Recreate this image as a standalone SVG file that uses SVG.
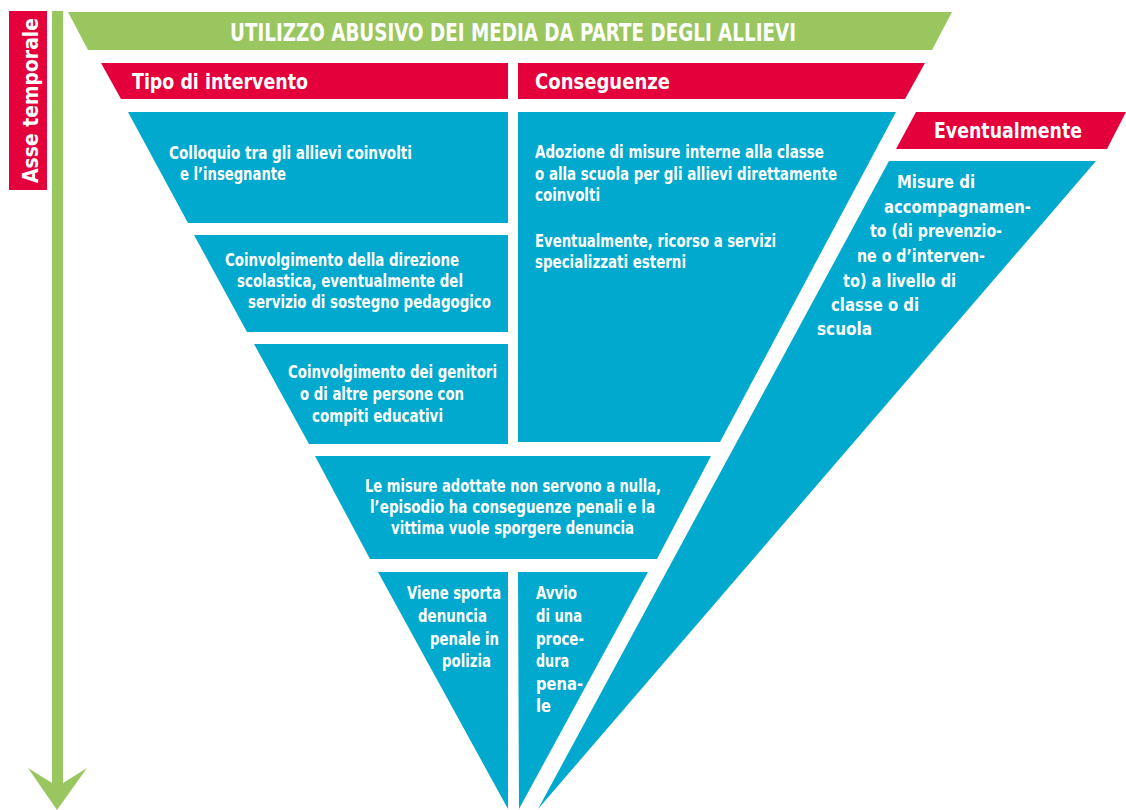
<svg xmlns="http://www.w3.org/2000/svg" width="1126" height="810" viewBox="0 0 1126 810">
  <style>
    .green { fill: #9AC660; }
    .red { fill: #E3003B; }
    .blue { fill: #00A9CD; }
    text { fill: #FFFFFF; font-family: "Liberation Sans Narrow", "DejaVu Sans Condensed", "Liberation Sans", sans-serif; font-weight: bold; }
    .title { font-size: 25px; }
    .head { font-size: 22px; }
    .body { font-size: 17px; }
    .body-lg { font-size: 18px; }
  </style>

  <rect width="1126" height="810" fill="#FFFFFF"/>

  <!-- time axis: label box and downward arrow -->
  <g id="time-axis">
    <rect class="red" x="9" y="11" width="38" height="179"/>
    <text class="head" font-size="23" transform="translate(38,183) rotate(-90)" textLength="165" lengthAdjust="spacingAndGlyphs">Asse temporale</text>
    <polygon class="green" points="52,11 63,11 63,783 87,768 57,810 28,768 52,783"/>
  </g>

  <!-- headline band -->
  <g id="title">
    <polygon class="green" points="68,12 952,12 932,50 88,50"/>
    <text class="title" x="230" y="41" textLength="566" lengthAdjust="spacingAndGlyphs">UTILIZZO ABUSIVO DEI MEDIA DA PARTE DEGLI ALLIEVI</text>
  </g>

  <!-- column headers -->
  <g id="header-intervento">
    <polygon class="red" points="101,63 508,63 508,99 121,99"/>
    <text class="head" x="132" y="89" textLength="176" lengthAdjust="spacingAndGlyphs">Tipo di intervento</text>
  </g>
  <g id="header-conseguenze">
    <polygon class="red" points="518,63 925,63 905,99 518,99"/>
    <text class="head" x="535" y="89" textLength="135" lengthAdjust="spacingAndGlyphs">Conseguenze</text>
  </g>
  <g id="header-eventualmente">
    <polygon class="red" points="916,112 1126,112 1107,149 896,149"/>
    <text class="head" x="934" y="138" textLength="148" lengthAdjust="spacingAndGlyphs">Eventualmente</text>
  </g>

  <!-- intervention steps -->
  <g id="step-colloquio">
    <polygon class="blue" points="128,112 508,112 508,223 188,223"/>
    <text class="body" x="169" y="159" textLength="243" lengthAdjust="spacingAndGlyphs">Colloquio tra gli allievi coinvolti</text>
    <text class="body" x="180" y="180" textLength="106" lengthAdjust="spacingAndGlyphs">e l’insegnante</text>
  </g>
  <g id="step-direzione">
    <polygon class="blue" points="194,235 508,235 508,332 247,332"/>
    <text class="body" x="225" y="266" textLength="234" lengthAdjust="spacingAndGlyphs">Coinvolgimento della direzione</text>
    <text class="body" x="237" y="287" textLength="226" lengthAdjust="spacingAndGlyphs">scolastica, eventualmente del</text>
    <text class="body" x="248" y="308" textLength="243" lengthAdjust="spacingAndGlyphs">servizio di sostegno pedagogico</text>
  </g>
  <g id="step-genitori">
    <polygon class="blue" points="254,344 508,344 508,444 309,444"/>
    <text class="body" x="288" y="378" textLength="209" lengthAdjust="spacingAndGlyphs">Coinvolgimento dei genitori</text>
    <text class="body" x="300" y="400" textLength="164" lengthAdjust="spacingAndGlyphs">o di altre persone con</text>
    <text class="body" x="312" y="422" textLength="131" lengthAdjust="spacingAndGlyphs">compiti educativi</text>
  </g>

  <!-- consequences -->
  <g id="consequences">
    <polygon class="blue" points="518,112 896,112 720,442 518,442"/>
    <text class="body" x="535" y="158" textLength="289" lengthAdjust="spacingAndGlyphs">Adozione di misure interne alla classe</text>
    <text class="body" x="535" y="180" textLength="302" lengthAdjust="spacingAndGlyphs">o alla scuola per gli allievi direttamente</text>
    <text class="body" x="535" y="201" textLength="65" lengthAdjust="spacingAndGlyphs">coinvolti</text>
    <text class="body" x="535" y="247" textLength="241" lengthAdjust="spacingAndGlyphs">Eventualmente, ricorso a servizi</text>
    <text class="body" x="535" y="268" textLength="151" lengthAdjust="spacingAndGlyphs">specializzati esterni</text>
  </g>

  <!-- escalation band -->
  <g id="step-denuncia">
    <polygon class="blue" points="315,456 711,456 657,559 370,559"/>
    <text class="body" x="365" y="492" textLength="296" lengthAdjust="spacingAndGlyphs">Le misure adottate non servono a nulla,</text>
    <text class="body" x="370" y="513" textLength="285" lengthAdjust="spacingAndGlyphs">l’episodio ha conseguenze penali e la</text>
    <text class="body" x="391" y="534" textLength="243" lengthAdjust="spacingAndGlyphs">vittima vuole sporgere denuncia</text>
  </g>

  <!-- final outcomes -->
  <g id="outcome-polizia">
    <polygon class="blue" points="378,572 508,572 508,809"/>
    <text class="body" x="407" y="599" textLength="94" lengthAdjust="spacingAndGlyphs">Viene sporta</text>
    <text class="body" x="418" y="622" textLength="69" lengthAdjust="spacingAndGlyphs">denuncia</text>
    <text class="body" x="430" y="645" textLength="69" lengthAdjust="spacingAndGlyphs">penale in</text>
    <text class="body" x="442" y="667" textLength="49" lengthAdjust="spacingAndGlyphs">polizia</text>
  </g>
  <g id="outcome-procedura">
    <polygon class="blue" points="518,572 648,572 519,809"/>
    <text class="body" x="536" y="599" textLength="41" lengthAdjust="spacingAndGlyphs">Avvio</text>
    <text class="body" x="536" y="622" textLength="46" lengthAdjust="spacingAndGlyphs">di una</text>
    <text class="body" x="536" y="645" textLength="48" lengthAdjust="spacingAndGlyphs">proce-</text>
    <text class="body" x="536" y="667" textLength="33" lengthAdjust="spacingAndGlyphs">dura</text>
    <text class="body" x="536" y="690" textLength="47" lengthAdjust="spacingAndGlyphs">pena-</text>
    <text class="body" x="536" y="712" textLength="15" lengthAdjust="spacingAndGlyphs">le</text>
  </g>

  <!-- optional support measures -->
  <g id="support-measures">
    <polygon class="blue" points="889,161 1096,161 538,809"/>
    <text class="body-lg" x="897" y="188" textLength="78" lengthAdjust="spacingAndGlyphs">Misure di</text>
    <text class="body-lg" x="884" y="213" textLength="147" lengthAdjust="spacingAndGlyphs">accompagnamen-</text>
    <text class="body-lg" x="870" y="237" textLength="132" lengthAdjust="spacingAndGlyphs">to (di prevenzio-</text>
    <text class="body-lg" x="857" y="262" textLength="128" lengthAdjust="spacingAndGlyphs">ne o d’interven-</text>
    <text class="body-lg" x="843" y="287" textLength="113" lengthAdjust="spacingAndGlyphs">to) a livello di</text>
    <text class="body-lg" x="831" y="311" textLength="88" lengthAdjust="spacingAndGlyphs">classe o di</text>
    <text class="body-lg" x="817" y="335" textLength="55" lengthAdjust="spacingAndGlyphs">scuola</text>
  </g>
</svg>
